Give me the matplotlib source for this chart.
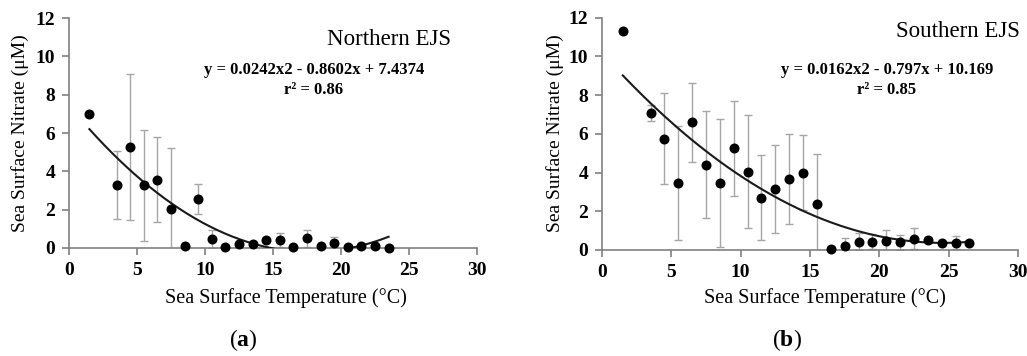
import matplotlib
matplotlib.use("Agg")
import matplotlib.pyplot as plt
import numpy as np

plt.rcParams['font.family'] = ['Liberation Serif', 'DejaVu Serif']
plt.rcParams['mathtext.fontset'] = 'custom'
plt.rcParams['mathtext.rm'] = 'Liberation Serif'
plt.rcParams['mathtext.bf'] = 'Liberation Serif:bold'

# ---- data: Northern EJS ----
north_temp = [1.5, 3.5, 4.5, 5.5, 6.5, 7.5, 8.5, 9.5, 10.5, 11.5, 12.5, 13.5,
              14.5, 15.5, 16.5, 17.5, 18.5, 19.5, 20.5, 21.5, 22.5, 23.5]
north_nitrate = [7.0, 3.27, 5.27, 3.27, 3.57, 2.02, 0.1, 2.56, 0.46, 0.05, 0.23, 0.23,
                 0.42, 0.42, 0.06, 0.5, 0.09, 0.24, 0.05, 0.1, 0.1, 0.0]
north_err = [0, 1.77, 3.83, 2.88, 2.2, 3.18, 0, 0.77, 0.48, 0, 0, 0,
             0.1, 0.38, 0, 0.44, 0, 0.35, 0, 0, 0, 0]
north_coef = [0.0242, -0.8602, 7.4374]
north_title = "Northern EJS"
north_eq = "y = 0.0242x2 - 0.8602x + 7.4374"
north_r2 = "r² = 0.86"

# ---- data: Southern EJS ----
south_temp = [1.5, 3.5, 4.5, 5.5, 6.5, 7.5, 8.5, 9.5, 10.5, 11.5, 12.5, 13.5,
              14.5, 15.5, 16.5, 17.5, 18.5, 19.5, 20.5, 21.5, 22.5, 23.5, 24.5, 25.5, 26.5]
south_nitrate = [11.3, 7.08, 5.75, 3.45, 6.59, 4.4, 3.45, 5.26, 4.05, 2.7, 3.17, 3.67,
                 4.0, 2.4, 0.06, 0.2, 0.43, 0.43, 0.48, 0.39, 0.58, 0.51, 0.36, 0.38, 0.34]
south_err = [0, 0.42, 2.35, 2.93, 2.05, 2.75, 3.3, 2.45, 2.93, 2.18, 2.27, 2.33,
             1.95, 2.54, 0.06, 0.43, 0.43, 0.4, 0.55, 0.38, 0.53, 0, 0, 0.32, 0]
south_coef = [0.0162, -0.797, 10.169]
south_title = "Southern EJS"
south_eq = "y = 0.0162x2 - 0.797x + 10.169"
south_r2 = "r² = 0.85"

x_ticks = [0, 5, 10, 15, 20, 25, 30]
y_ticks = [0, 2, 4, 6, 8, 10, 12]
xlabel = "Sea Surface Temperature (°C)"
ylabel = "Sea Surface Nitrate (μM)"

W, H = 1027, 356
fig = plt.figure(figsize=(W / 100, H / 100), dpi=100)

def px_rect(x0, x1, ytop, ybot):
    return [x0 / W, 1 - ybot / H, (x1 - x0) / W, (ybot - ytop) / H]

ax1 = fig.add_axes(px_rect(69, 477, 18, 248))
ax2 = fig.add_axes(px_rect(602, 1018, 17.5, 250))

spine_col = '#808080'
err_col = '#a6a6a6'

def draw(ax, xs, ys, es, coef, title, eq, r2, title_xy, eq_xy):
    ax.errorbar(xs, ys, yerr=es, fmt='none', ecolor=err_col, elinewidth=1.0,
                capsize=3, capthick=1.0, zorder=2)
    xf = np.linspace(min(xs), max(xs), 200)
    ax.plot(xf, np.polyval(coef, xf), color='#1a1a1a', lw=1.5, zorder=3)
    ax.plot(xs, ys, 'o', color='black', ms=6.2, zorder=4, clip_on=False)
    ax.set_xlim(0, 30)
    ax.set_ylim(0, 12)
    ax.set_xticks(x_ticks)
    ax.set_yticks(y_ticks)
    for s in ['top', 'right']:
        ax.spines[s].set_visible(False)
    for s in ['left', 'bottom']:
        ax.spines[s].set_color(spine_col)
        ax.spines[s].set_linewidth(1.2)
    ax.tick_params(axis='both', direction='out', length=5, width=1.2, color=spine_col,
                   labelsize=14, pad=5)
    for lab in ax.get_xticklabels() + ax.get_yticklabels():
        lab.set_fontweight('bold')
    ax.text(title_xy[0], title_xy[1], title, fontsize=16.5, ha='center', va='center')
    ax.text(eq_xy[0], eq_xy[1], eq, fontsize=12, fontweight='bold', ha='center', va='center')
    ax.text(eq_xy[0], eq_xy[1] - 1.05, r2, fontsize=12, fontweight='bold', ha='center', va='center')

draw(ax1, north_temp, north_nitrate, north_err, north_coef, north_title, north_eq, north_r2,
     (23.5, 10.9), (18.0, 9.3))
draw(ax2, south_temp, south_nitrate, south_err, south_coef, south_title, south_eq, south_r2,
     (25.7, 11.3), (20.55, 9.3))

# axis labels placed in figure pixel coordinates
fig.text(286 / W, 1 - 298 / H, xlabel, fontsize=14.5, ha='center', va='center')
fig.text(825 / W, 1 - 298 / H, xlabel, fontsize=14.5, ha='center', va='center')
fig.text(20 / W, 1 - 133 / H, ylabel, fontsize=14, ha='center', va='center', rotation=90)
fig.text(555 / W, 1 - 133 / H, ylabel, fontsize=14, ha='center', va='center', rotation=90)
fig.text(243 / W, 1 - 340 / H, r"($\mathbf{a}$)", fontsize=17, ha='center', va='center')
fig.text(787 / W, 1 - 340 / H, r"($\mathbf{b}$)", fontsize=17, ha='center', va='center')

fig.savefig("out.png", dpi=100)
